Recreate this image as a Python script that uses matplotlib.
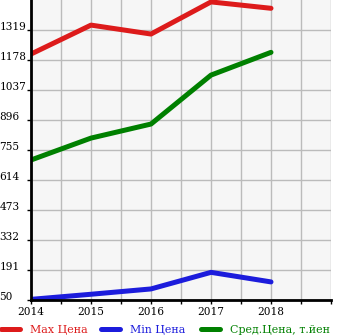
import matplotlib
matplotlib.use('agg')
import matplotlib.pyplot as plt
from matplotlib.lines import Line2D
from matplotlib.transforms import ScaledTranslation

years = [2014, 2015, 2016, 2017, 2018]
max_price = [1206, 1342, 1300, 1451, 1421]
min_price = [53, 77, 102, 180, 135]
avg_price = [708, 811, 877, 1107, 1214]
yticks = [50, 191, 332, 473, 614, 755, 896, 1037, 1178, 1319]
labels = ['Max Цена', 'Min Цена', 'Сред.Цена, т.йен']
colors = ['#dd1b1b', '#1c1cdc', '#008000']

plt.rcParams['font.family'] = 'DejaVu Serif'
plt.rcParams['font.size'] = 7.6

W, H = 345, 335
fig = plt.figure(figsize=(W/100, H/100), dpi=100)
ax = fig.add_axes([31/W, 35/H, 300/W, 300/H])
ax.set_facecolor('#f6f6f6')

for vals, c, lab in zip([max_price, min_price, avg_price], colors, labels):
    ax.plot(years, vals, color=c, lw=3.6, solid_capstyle='round', label=lab)

ax.set_xlim(2014, 2019)
ax.set_ylim(50, 1460)
ax.set_xticks([2014 + 0.5*i for i in range(11)])
ax.set_xticklabels(['2014', '', '2015', '', '2016', '', '2017', '', '2018', '', ''])
ax.set_yticks(yticks)
ax.set_yticklabels([str(v) for v in yticks])
ax.grid(True, color='#bbbbbb', lw=1)
ax.set_axisbelow(True)

ax.tick_params(axis='both', length=3, width=1, color='black')
ax.tick_params(axis='x', pad=2)
ax.tick_params(axis='y', pad=19.8)
for t in ax.get_yticklabels():
    t.set_horizontalalignment('left')
    t.set_transform(t.get_transform() + ScaledTranslation(0, 4/100, fig.dpi_scale_trans))

for s in ['top', 'right']:
    ax.spines[s].set_visible(False)
for s in ['left', 'bottom']:
    ax.spines[s].set_linewidth(2)
    ax.spines[s].set_color('black')

# legend row along the bottom, one entry every 100 px
for i, (c, lab) in enumerate(zip(colors, labels)):
    x0 = 100*i
    y = H - 329
    fig.add_artist(Line2D([(x0 + 1)/W, (x0 + 20)/W], [y/H, y/H], color=c, lw=3.6,
                          solid_capstyle='round', transform=fig.transFigure))
    fig.text((x0 + 30)/W, (H - 333)/H, lab, color=c, fontsize=7.9,
             ha='left', va='baseline')

fig.savefig('out.png', dpi=100)
